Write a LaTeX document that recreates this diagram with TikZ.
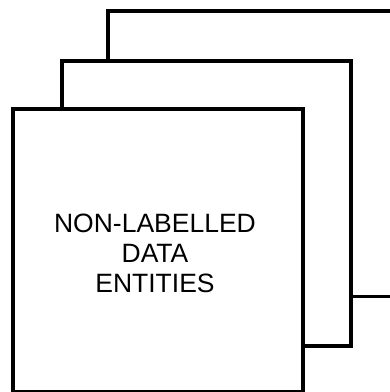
\documentclass[tikz,border=0pt]{standalone}
\usepackage{fontspec}
\setmainfont{Liberation Sans}
\begin{document}
\begin{tikzpicture}[x=1bp,y=-1bp,
  box/.style={draw=black, fill=white, line width=4bp, inner sep=0pt, rectangle, anchor=north west},
  lbl/.style={align=center, inner sep=0pt, font=\fontsize{26.5bp}{30bp}\selectfont}]
\useasboundingbox (0,0) rectangle (390,392);
\clip (0,0) rectangle (390,392);
% back sheet
\node[inner sep=0pt, minimum width=300bp, minimum height=285bp, anchor=north west] (back) at (108,11) {};
\draw[line width=3.2bp] (back.south west) |- (back.north east);
\draw[line width=2.2bp] (back.south west) -- (back.south east);
% middle sheet
\node[box, minimum width=289bp, minimum height=285bp] (middle) at (60,59) {};
% front sheet
\node[box, minimum width=290bp, minimum height=283bp] (front) at (11,107) {};
\node[lbl] (text) at (155,253) {NON-LABELLED\\DATA\\ENTITIES};
\end{tikzpicture}
\end{document}
